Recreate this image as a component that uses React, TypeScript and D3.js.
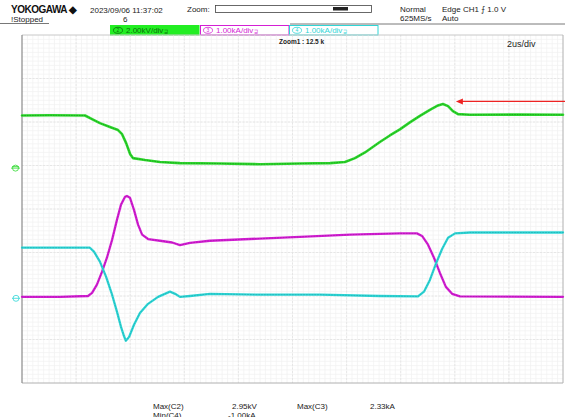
import React from "react";
import * as d3 from "d3";

// Acquisition window: 10 divisions x 2 us/div
const timeDomain = [0, 20];

// C2 voltage trace (kV): time in us, value in kV
const c2Time = [0, 1.04, 2.33, 2.59, 2.88, 3.25, 3.55, 3.7, 3.85, 4.0, 4.1, 4.55, 5.1, 5.84, 7.32, 8.8, 10.28, 11.39, 11.94, 12.31, 12.68, 13.23, 13.6, 13.97, 14.34, 14.71, 15.08, 15.38, 15.56, 15.75, 15.93, 16.12, 16.56, 18.41, 20];
const c2Value = [2.42, 2.43, 2.42, 2.25, 2.07, 1.89, 1.75, 1.56, 1.15, 0.64, 0.46, 0.37, 0.28, 0.23, 0.21, 0.18, 0.21, 0.23, 0.28, 0.46, 0.72, 1.2, 1.5, 1.78, 2.1, 2.4, 2.68, 2.88, 2.95, 2.85, 2.62, 2.48, 2.45, 2.46, 2.45];

// C3 current trace (kA)
const c3Time = [0, 1.4, 2.44, 2.59, 2.77, 2.96, 3.14, 3.33, 3.51, 3.66, 3.81, 3.88, 3.99, 4.14, 4.29, 4.44, 4.66, 5.1, 5.55, 5.84, 6.21, 6.95, 8.43, 10.28, 12.13, 13.97, 14.6, 14.79, 15.01, 15.23, 15.45, 15.67, 15.9, 16.19, 20];
const c3Value = [0.01, 0.01, 0.03, 0.1, 0.29, 0.59, 0.91, 1.32, 1.78, 2.13, 2.31, 2.33, 2.29, 2.01, 1.67, 1.44, 1.34, 1.3, 1.26, 1.2, 1.25, 1.3, 1.34, 1.39, 1.44, 1.47, 1.47, 1.41, 1.21, 0.91, 0.56, 0.24, 0.08, 0.02, 0.01];

// C4 current trace (kA)
const c4Time = [0, 1.4, 2.51, 2.66, 2.88, 3.11, 3.33, 3.51, 3.66, 3.77, 3.84, 3.96, 4.14, 4.36, 4.66, 5.03, 5.47, 5.66, 5.84, 6.21, 6.95, 8.8, 11.02, 13.23, 14.64, 14.86, 15.08, 15.3, 15.53, 15.75, 16.01, 16.56, 20];
const c4Value = [1.14, 1.14, 1.14, 1.05, 0.82, 0.47, 0.06, -0.33, -0.68, -0.89, -1.0, -0.91, -0.63, -0.36, -0.15, 0.01, 0.13, 0.08, 0.01, 0.03, 0.08, 0.06, 0.06, 0.03, 0.02, 0.13, 0.4, 0.77, 1.11, 1.37, 1.47, 1.49, 1.49];

// Channel settings
const channelScales = ["2.00kV/div", "1.00kA/div", "1.00kA/div"];
const measureNames = ["Max(C2)", "Min(C4)", "Max(C3)"];
const measureValues = ["2.95kV", "-1.00kA", "2.33kA"];

const W = 565;
const H = 417;
const plot = { left: 22, right: 563, top: 35, bottom: 383 };
const xDivs = 10;
const yDivs = 8;
const divH = (plot.bottom - plot.top) / yDivs;

// Vertical position of each channel's ground level, in divisions from the top
const c2Ground = 3.06;
const c34Ground = 6.03;

const FONT = "'Liberation Sans', Arial, sans-serif";

const green = "#2fd92f";
const greenDark = "#149a14";
const magenta = "#d41fd4";
const magentaDark = "#a0109f";
const cyan = "#2fd6d6";
const cyanDark = "#169a9e";

export default function App() {
  const x = d3.scaleLinear().domain(timeDomain).range([plot.left, plot.right]);
  const yV = d3
    .scaleLinear()
    .domain([0, 2])
    .range([plot.top + c2Ground * divH, plot.top + (c2Ground - 1) * divH]);
  const yI = d3
    .scaleLinear()
    .domain([0, 1])
    .range([plot.top + c34Ground * divH, plot.top + (c34Ground - 1) * divH]);

  const mk = (ts: number[], vs: number[], y: d3.ScaleLinear<number, number>) =>
    d3
      .line<number>()
      .x((_, i) => x(ts[i]))
      .y((v) => y(v))
      .curve(d3.curveLinear)(vs) as string;

  const c2Path = mk(c2Time, c2Value, yV);
  const c3Path = mk(c3Time, c3Value, yI);
  const c4Path = mk(c4Time, c4Value, yI);

  const pw = plot.right - plot.left;
  const ph = plot.bottom - plot.top;
  const minorX = d3.range(1, xDivs * 10).map((i) => plot.left + (pw * i) / (xDivs * 10));
  const minorY = d3.range(1, yDivs * 10).map((i) => plot.top + (ph * i) / (yDivs * 10));
  const majorX = d3.range(1, xDivs).map((i) => plot.left + (pw * i) / xDivs);
  const majorY = d3.range(1, yDivs).map((i) => plot.top + (ph * i) / yDivs);

  const peakX = x(15.56);
  const peakY = yV(2.95);

  return (
    <svg
      width={W}
      height={H}
      style={{ position: "absolute", left: 0, top: 0, background: "#fff" }}
      fontFamily={FONT}
    >
      <rect width={W} height={H} fill="#fff" />

      {/* header */}
      <text x={11} y={13} fontSize={10} fontWeight="bold" letterSpacing={-0.5} fill="#111">
        YOKOGAWA ◆
      </text>
      <text x={90} y={13} fontSize={8} fill="#222">
        2023/09/06 11:37:02
      </text>
      <text x={123} y={22} fontSize={8} fill="#222">6</text>
      <text x={11} y={22} fontSize={8} fill="#222">!Stopped</text>
      <line x1={0} x2={49} y1={23.5} y2={23.5} stroke="#555" strokeWidth={0.8} />
      <text x={187} y={12} fontSize={8} fill="#222">Zoom:</text>
      <rect x={215.5} y={5.5} width={156} height={7} fill="#fff" stroke="#444" strokeWidth={0.8} />
      <rect x={333} y={7} width={15} height={3.5} fill="#222" />
      <text x={400} y={12} fontSize={8} fill="#222">Normal</text>
      <text x={400} y={21} fontSize={8} fill="#222">625MS/s</text>
      <text x={442} y={12} fontSize={8} fill="#222">Edge CH1 ⨍ 1.0 V</text>
      <text x={442} y={21} fontSize={8} fill="#222">Auto</text>
      <line x1={290} x2={W} y1={24} y2={24} stroke="#555" strokeWidth={0.8} />

      {/* channel scale boxes */}
      {[
        { x0: 110, fill: "#22ee22", stroke: "#22ee22", text: "#0a6e0a", n: 2 },
        { x0: 200, fill: "#fff", stroke: magenta, text: magenta, n: 3 },
        { x0: 289, fill: "#fff", stroke: cyan, text: cyan, n: 4 },
      ].map((b, i) => (
        <g key={i}>
          <rect x={b.x0 + 0.5} y={25.5} width={88.5} height={9.5} fill={b.fill} stroke={b.stroke} strokeWidth={1} />
          <ellipse cx={b.x0 + 8} cy={30.3} rx={4.5} ry={3} fill="none" stroke={b.text} strokeWidth={0.8} />
          <text x={b.x0 + 8} y={32.2} fontSize={5} textAnchor="middle" fill={b.text}>{b.n}</text>
          <text x={b.x0 + 16} y={33.3} fontSize={8} fill={b.text}>
            {channelScales[i]}
            <tspan fontSize={5} dx={1}>⊒</tspan>
          </text>
        </g>
      ))}

      {/* graticule */}
      <g>
        {minorX.map((gx, i) => (
          <line key={"mx" + i} x1={gx} x2={gx} y1={plot.top} y2={plot.bottom} stroke="#f1f1f1" strokeWidth={0.7} />
        ))}
        {minorY.map((gy, i) => (
          <line key={"my" + i} x1={plot.left} x2={plot.right} y1={gy} y2={gy} stroke="#f1f1f1" strokeWidth={0.7} />
        ))}
        {majorX.map((gx, i) => (
          <line key={"Mx" + i} x1={gx} x2={gx} y1={plot.top} y2={plot.bottom} stroke="#e2e2e2" strokeWidth={0.8} strokeDasharray="2 1.5" />
        ))}
        {majorY.map((gy, i) => (
          <line key={"My" + i} x1={plot.left} x2={plot.right} y1={gy} y2={gy} stroke="#e2e2e2" strokeWidth={0.8} strokeDasharray="2 1.5" />
        ))}
        <line x1={plot.left} x2={plot.right} y1={plot.top} y2={plot.top} stroke="#c8c8c8" strokeWidth={1} />
        <line x1={plot.left} x2={plot.right} y1={plot.bottom} y2={plot.bottom} stroke="#b0b0b0" strokeWidth={1} />
        <line x1={plot.right} x2={plot.right} y1={plot.top} y2={plot.bottom} stroke="#b0b0b0" strokeWidth={1} />
        <line x1={plot.left} x2={plot.left} y1={plot.top} y2={plot.bottom} stroke="#8a8a8a" strokeWidth={1.2} />
      </g>

      <text x={279} y={44} fontSize={6.5} fontWeight="bold" fill="#222">Zoom1 : 12.5 k</text>
      <text x={507} y={47} fontSize={9} fill="#222">2us/div</text>

      {/* ground markers */}
      <g stroke={green} strokeWidth={0.8} fill="none">
        <circle cx={15.5} cy={yV(0)} r={3} />
        <line x1={11} x2={20} y1={yV(0)} y2={yV(0)} />
        <line x1={12} x2={19} y1={yV(0) - 1.5} y2={yV(0) - 1.5} />
      </g>
      <g stroke={cyan} strokeWidth={0.8} fill="none">
        <circle cx={16} cy={yI(0) + 1} r={3} />
        <line x1={12} x2={20} y1={yI(0) + 1} y2={yI(0) + 1} />
      </g>

      {/* traces */}
      <g fill="none" strokeLinejoin="round" strokeLinecap="round">
        <path d={c2Path} stroke={green} strokeWidth={2.6} />
        <path d={c2Path} stroke={greenDark} strokeWidth={0.9} strokeDasharray="1 1.6" opacity={0.8} />
        <path d={c3Path} stroke={magenta} strokeWidth={2.3} />
        <path d={c3Path} stroke={magentaDark} strokeWidth={0.8} strokeDasharray="1 1.8" opacity={0.7} />
        <path d={c4Path} stroke={cyan} strokeWidth={2.3} />
        <path d={c4Path} stroke={cyanDark} strokeWidth={0.8} strokeDasharray="1 1.8" opacity={0.6} />
      </g>

      {/* marker arrow at the C2 peak */}
      <g stroke="#ee2222" fill="#ee2222">
        <line x1={W} x2={peakX + 17} y1={peakY - 2.5} y2={peakY - 2.5} strokeWidth={1.2} />
        <path
          d={`M${peakX + 13},${peakY - 2.5} L${peakX + 20},${peakY - 5.5} L${peakX + 20},${peakY + 0.5} Z`}
          stroke="none"
        />
      </g>

      {/* measurements */}
      <g fontSize={8} fill="#222">
        <text x={153} y={409}>{measureNames[0]}</text>
        <text x={232} y={409}>{measureValues[0]}</text>
        <text x={153} y={418}>{measureNames[1]}</text>
        <text x={228} y={418}>{measureValues[1]}</text>
        <text x={297} y={409}>{measureNames[2]}</text>
        <text x={370} y={409}>{measureValues[2]}</text>
      </g>
    </svg>
  );
}
